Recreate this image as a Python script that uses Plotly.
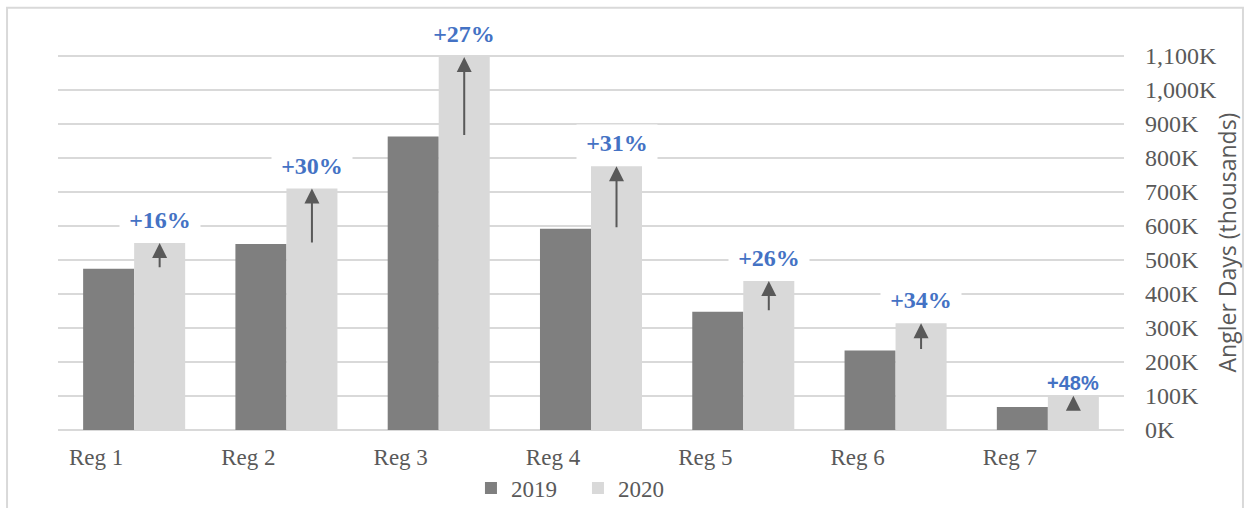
import plotly.graph_objects as go

# Angler days by region, in thousands
regions = ["Reg 1", "Reg 2", "Reg 3", "Reg 4", "Reg 5", "Reg 6", "Reg 7"]
days_2019 = [474, 547, 863, 592, 348, 234, 68]
days_2020 = [550, 710, 1097, 776, 438, 314, 100.5]

y_tick_vals = [0, 100, 200, 300, 400, 500, 600, 700, 800, 900, 1000, 1100]
y_tick_text = ["0K", "100K", "200K", "300K", "400K", "500K", "600K",
               "700K", "800K", "900K", "1,000K", "1,100K"]

GREY_TEXT = "#595959"
GRID = "#d9d9d9"
BLUE = "#4472C4"
SERIF = "Liberation Serif"
SANS = "Liberation Sans"

BARGAP = 0.33
# centre of the second bar in each group, in category units
off_2020 = (1 - BARGAP) / 4

fig = go.Figure()
fig.add_trace(go.Bar(name="2019", x=regions, y=days_2019,
                     marker=dict(color="#7f7f7f", line=dict(width=0))))
fig.add_trace(go.Bar(name="2020", x=regions, y=days_2020,
                     marker=dict(color="#d9d9d9", line=dict(width=0))))

annotations = []
for i, (a, b) in enumerate(zip(days_2019, days_2020)):
    xc = i + off_2020
    # growth arrow from last year's level up to this year's level
    annotations.append(dict(
        x=xc, y=b, ax=xc, ay=a, xref="x", yref="y", axref="x", ayref="y",
        text="", showarrow=True, arrowhead=2, arrowsize=1.5, arrowwidth=2,
        arrowcolor=GREY_TEXT, standoff=0,
    ))
    pct = round((b / a - 1) * 100)
    last = i == len(regions) - 1
    annotations.append(dict(
        x=xc, y=b, xref="x", yref="y", showarrow=False,
        text=f"+{pct}%", yanchor="middle",
        yshift=13 if last else 23,
        width=None if last else 78, height=None if last else 34,
        bgcolor="rgba(0,0,0,0)" if last else "white",
        font=dict(family=SANS if last else SERIF, size=20 if last else 24,
                  color=BLUE, weight="bold"),
    ))

fig.update_layout(
    width=1244, height=508, autosize=False,
    margin=dict(l=58, r=120, t=55, b=78, autoexpand=False),
    paper_bgcolor="white", plot_bgcolor="white",
    font=dict(family=SERIF, color=GREY_TEXT),
    barmode="group", bargap=BARGAP, bargroupgap=0,
    showlegend=True,
    legend=dict(orientation="h", x=0.3874, xanchor="left", y=-0.155,
                yanchor="middle", font=dict(family=SERIF, size=23, color=GREY_TEXT),
                entrywidth=62, entrywidthmode="pixels",
                traceorder="normal", bgcolor="rgba(0,0,0,0)"),
    annotations=annotations,
    shapes=[dict(type="rect", xref="paper", yref="paper",
                 x0=-0.0478, x1=1.1116, y0=-0.22, y1=1.1257,
                 line=dict(color=GRID, width=2), fillcolor="rgba(0,0,0,0)",
                 layer="below")],
)

fig.update_xaxes(
    type="category", showgrid=False, showline=False, zeroline=False,
    ticks="", tickfont=dict(family=SERIF, size=23, color=GREY_TEXT),
    ticklabelshift=-38, ticklabelstandoff=11, automargin=False,
)
fig.update_yaxes(
    side="right", range=[0, 1103], tickmode="array",
    tickvals=y_tick_vals, ticktext=y_tick_text,
    showgrid=True, gridcolor=GRID, gridwidth=2,
    zeroline=True, zerolinecolor=GRID, zerolinewidth=2, showline=False,
    ticks="", ticklabelstandoff=20,
    tickfont=dict(family=SERIF, size=24, color=GREY_TEXT),
    title=dict(text="Angler Days (thousands)", standoff=3,
               font=dict(family="Open Sans", size=23, color=GREY_TEXT)),
    automargin=False,
)

fig.write_html("out.html")
